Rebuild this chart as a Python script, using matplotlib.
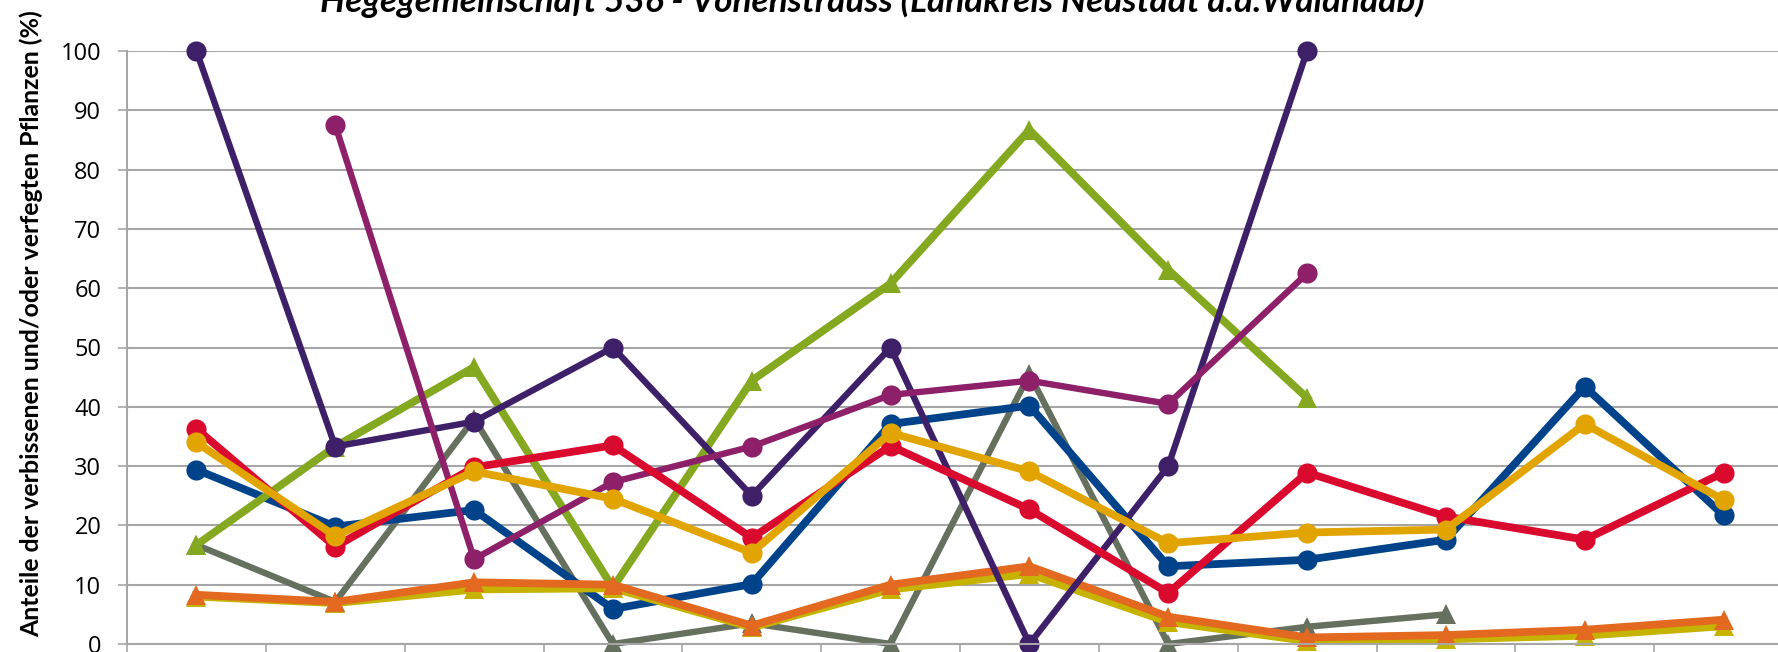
import numpy as np
import matplotlib.pyplot as plt

# --------------
# DATA
# --------------
nan = np.nan
categories = np.arange(1, 13)

navy = [29.4, 19.8, 22.6, 5.9, 10.1, 37.1, 40.2, 13.1, 14.2, 17.6, 43.4, 21.7]
red = [36.3, 16.4, 29.8, 33.5, 17.9, 33.4, 22.7, 8.6, 28.9, 21.5, 17.6, 28.9]
gold = [34.0, 18.2, 29.1, 24.5, 15.4, 35.6, 29.1, 17.0, 18.8, 19.3, 37.1, 24.3]
purple = [100, 33.3, 37.5, 50.0, 25.0, 50.0, 0.0, 30.0, 100, nan, nan, nan]
magenta = [nan, 87.5, 14.3, 27.3, 33.3, 42.0, 44.4, 40.5, 62.5, nan, nan, nan]
green = [16.7, 33.3, 46.7, 9.5, 44.4, 60.8, 86.7, 63.1, 41.5, nan, nan, nan]
gray = [16.7, 7.1, 38.0, 0.0, 3.5, 0.0, 45.5, 0.0, 2.9, 5.0, nan, nan]
olive = [8.0, 6.9, 9.2, 9.4, 2.8, 9.2, 11.8, 3.7, 0.5, 0.8, 1.4, 3.0]
orange = [8.3, 7.1, 10.4, 10.0, 3.1, 10.0, 13.1, 4.6, 1.1, 1.5, 2.4, 4.1]

title = "Hegegemeinschaft 536 - Vohenstrauss (Landkreis Neustadt a.d.Waldnaab)"
ylabel = "Anteile der verbissenen und/oder verfegten Pflanzen (%)"
yticks = [0, 10, 20, 30, 40, 50, 60, 70, 80, 90, 100]

# ---------------
# STYLE PER SERIES (drawing order = z order)
# ---------------
series = [
    (gray, "#66705F", "^", 4.6),
    (navy, "#00438A", "o", 5.6),
    (green, "#84A820", "^", 5.6),
    (olive, "#C5B300", "^", 5.6),
    (orange, "#E2691F", "^", 5.6),
    (purple, "#3E2069", "o", 4.6),
    (magenta, "#8D2068", "o", 4.6),
    (red, "#DA0A2E", "o", 5.6),
    (gold, "#E2A400", "o", 5.6),
]

fig = plt.figure(figsize=(17.78, 6.52), dpi=100)
ax = fig.add_axes([127 / 1778, 8 / 652, (1793 - 127) / 1778, (644 - 51) / 652])

for vals, col, mk, lw in series:
    v = np.array(vals, dtype=float)
    ms = 14.5 if mk == "o" else 15
    ax.plot(categories, v, color=col, lw=lw, marker=mk, ms=ms,
            markeredgewidth=0, solid_joinstyle="miter", clip_on=False)

# --------------
# AXES
# --------------
ax.set_xlim(0.5, 12.5)
ax.set_ylim(0, 100)
ax.set_yticks(yticks)
ax.set_yticklabels([str(t) for t in yticks], fontsize=17, family="Open Sans")
ax.yaxis.grid(True, color="#A6A6A6", lw=1.5)
ax.set_axisbelow(True)
ax.tick_params(axis="y", length=6.5, width=1.2, color="#A6A6A6", pad=12)

ax.set_xticks(categories)
ax.set_xticklabels([])
ax.set_xticks(np.arange(0.5, 13, 1), minor=True)
ax.tick_params(axis="x", which="major", length=0)
ax.tick_params(axis="x", which="minor", length=6, width=1.2, color="#A6A6A6")

for s in ["top", "right"]:
    ax.spines[s].set_visible(False)
for s in ["left", "bottom"]:
    ax.spines[s].set_color("#A6A6A6")
    ax.spines[s].set_linewidth(1.5)

fig.text(31 / 1778, 0.503, ylabel, rotation=90, ha="center", va="center",
         fontsize=17.9, fontweight="bold", family="Lato")
fig.text(0.4907, 1 - 12 / 652, title, ha="center", va="baseline",
         fontsize=25.3, fontweight="bold", style="italic", family="Lato")

fig.savefig("out.png", dpi=100)
